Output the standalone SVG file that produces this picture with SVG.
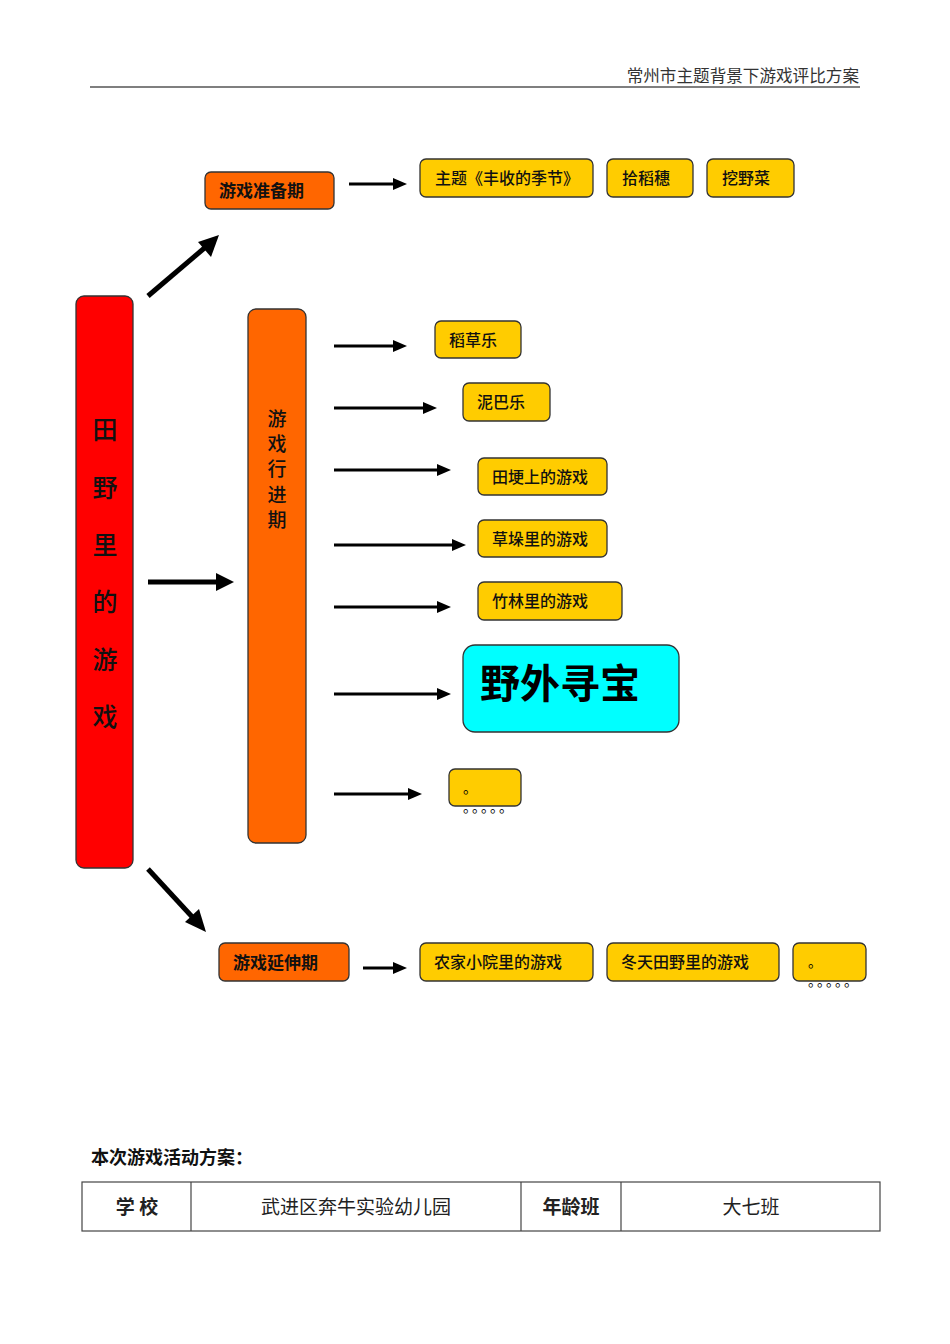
<svg xmlns="http://www.w3.org/2000/svg" width="950" height="1344" viewBox="0 0 950 1344">
<defs>
<style>
.cjk{font-family:"Noto Sans CJK SC","Liberation Sans",sans-serif;}
.y{fill:#FFCC00;stroke:#333;stroke-width:1.3;}
.o{fill:#FF6600;stroke:#333;stroke-width:1.3;}
.t{font-family:"Noto Sans CJK SC",sans-serif;font-size:16px;font-weight:500;fill:#111;}
.tb{font-family:"Noto Sans CJK SC",sans-serif;font-size:17px;font-weight:700;fill:#111;}
.ln{stroke:#000;stroke-width:3;fill:none;}
.lnb{stroke:#000;stroke-width:5;fill:none;}
.hd{fill:#000;}
.cell{font-family:"Noto Sans CJK SC",sans-serif;font-size:19px;fill:#222;text-anchor:middle;}
.dot{font-family:"Noto Sans CJK SC",sans-serif;font-size:14px;fill:#000;}
</style>
</defs>
<rect width="950" height="1344" fill="#fff"/>

<g id="header">
<text x="859" y="82" class="cjk" font-size="16.6" fill="#333" text-anchor="end">常州市主题背景下游戏评比方案</text>
<line x1="90" y1="87" x2="860" y2="87" stroke="#000" stroke-width="1.2"/>
</g>

<g id="connectors">
<line class="lnb" x1="148" y1="296" x2="208" y2="245"/>
<polygon class="hd" points="219,235 211,257 198,242"/>
<line class="lnb" x1="148" y1="582" x2="218" y2="582"/>
<polygon class="hd" points="234,582 216,573 216,591"/>
<line class="lnb" x1="148" y1="869" x2="196" y2="921"/>
<polygon class="hd" points="206,932 185,922 199,909"/>
<g>
<line class="ln" x1="349" y1="184" x2="395" y2="184"/><polygon class="hd" points="407,184 393,178 393,190"/>
<line class="ln" x1="334" y1="346" x2="395" y2="346"/><polygon class="hd" points="407,346 393,340 393,352"/>
<line class="ln" x1="334" y1="408" x2="425" y2="408"/><polygon class="hd" points="437,408 423,402 423,414"/>
<line class="ln" x1="334" y1="470" x2="439" y2="470"/><polygon class="hd" points="451,470 437,464 437,476"/>
<line class="ln" x1="334" y1="545" x2="454" y2="545"/><polygon class="hd" points="466,545 452,539 452,551"/>
<line class="ln" x1="334" y1="607" x2="439" y2="607"/><polygon class="hd" points="451,607 437,601 437,613"/>
<line class="ln" x1="334" y1="694" x2="439" y2="694"/><polygon class="hd" points="451,694 437,688 437,700"/>
<line class="ln" x1="334" y1="794" x2="410" y2="794"/><polygon class="hd" points="422,794 408,788 408,800"/>
<line class="ln" x1="363" y1="968" x2="395" y2="968"/><polygon class="hd" points="407,968 393,962 393,974"/>
</g>
</g>

<g id="root">
<rect x="76" y="296" width="57" height="572" rx="8" fill="#FF0000" stroke="#333" stroke-width="1.3"/>
<g class="cjk" font-size="25" font-weight="500" fill="#111" text-anchor="middle">
<text x="105" y="439">田</text>
<text x="105" y="497">野</text>
<text x="105" y="554">里</text>
<text x="105" y="611">的</text>
<text x="105" y="669">游</text>
<text x="105" y="726">戏</text>
</g>
</g>

<g id="prep">
<rect class="o" x="205" y="172" width="129" height="37" rx="6"/>
<text class="tb" x="219" y="197">游戏准备期</text>
</g>
<g id="prep1"><rect class="y" x="420" y="159" width="173" height="38" rx="6"/><text class="t" x="435" y="184">主题《丰收的季节》</text></g>
<g id="prep2"><rect class="y" x="607" y="159" width="86" height="38" rx="6"/><text class="t" x="622" y="184">拾稻穗</text></g>
<g id="prep3"><rect class="y" x="707" y="159" width="87" height="38" rx="6"/><text class="t" x="722" y="184">挖野菜</text></g>

<g id="progress">
<rect class="o" x="248" y="309" width="58" height="534" rx="8"/>
<g class="cjk" font-size="19" font-weight="500" fill="#111" text-anchor="middle">
<text x="277" y="426">游</text>
<text x="277" y="451">戏</text>
<text x="277" y="476">行</text>
<text x="277" y="502">进</text>
<text x="277" y="527">期</text>
</g>
</g>
<g id="p1"><rect class="y" x="435" y="321" width="86" height="37" rx="6"/><text class="t" x="449" y="346">稻草乐</text></g>
<g id="p2"><rect class="y" x="463" y="383" width="87" height="38" rx="6"/><text class="t" x="477" y="408">泥巴乐</text></g>
<g id="p3"><rect class="y" x="478" y="458" width="129" height="37" rx="6"/><text class="t" x="492" y="483">田埂上的游戏</text></g>
<g id="p4"><rect class="y" x="478" y="520" width="129" height="37" rx="6"/><text class="t" x="492" y="545">草垛里的游戏</text></g>
<g id="p5"><rect class="y" x="478" y="582" width="144" height="38" rx="6"/><text class="t" x="492" y="607">竹林里的游戏</text></g>
<g id="p6"><rect x="463" y="645" width="216" height="87" rx="12" fill="#00FFFF" stroke="#333" stroke-width="1.3"/><text class="cjk" x="480" y="698" font-size="40" font-weight="700" fill="#000">野外寻宝</text></g>
<g id="p7"><rect class="y" x="449" y="769" width="72" height="37" rx="6"/><text class="dot" x="463" y="793">。</text><text class="dot" x="463 472 481 490 499" y="812">。。。。。</text></g>

<g id="ext">
<rect class="o" x="219" y="943" width="130" height="38" rx="6"/>
<text class="tb" x="233" y="969">游戏延伸期</text>
</g>
<g id="e1"><rect class="y" x="420" y="943" width="173" height="38" rx="6"/><text class="t" x="434" y="968">农家小院里的游戏</text></g>
<g id="e2"><rect class="y" x="607" y="943" width="172" height="38" rx="6"/><text class="t" x="621" y="968">冬天田野里的游戏</text></g>
<g id="e3"><rect class="y" x="793" y="943" width="73" height="38" rx="6"/><text class="dot" x="808" y="967">。</text><text class="dot" x="808 817 826 835 844" y="986">。。。。。</text></g>

<g id="plan">
<text class="cjk" x="91" y="1164" font-size="18" font-weight="700" fill="#111">本次游戏活动方案：</text>
<rect x="82" y="1182" width="798" height="49" fill="none" stroke="#444" stroke-width="1.2"/>
<line x1="191" y1="1182" x2="191" y2="1231" stroke="#444" stroke-width="1.2"/>
<line x1="521" y1="1182" x2="521" y2="1231" stroke="#444" stroke-width="1.2"/>
<line x1="621" y1="1182" x2="621" y2="1231" stroke="#444" stroke-width="1.2"/>
<text class="cell" x="137" y="1214" font-weight="700" fill="#111">学 校</text>
<text class="cell" x="356" y="1214">武进区奔牛实验幼儿园</text>
<text class="cell" x="571" y="1214" font-weight="700" fill="#111">年龄班</text>
<text class="cell" x="751" y="1214">大七班</text>
</g>
</svg>
